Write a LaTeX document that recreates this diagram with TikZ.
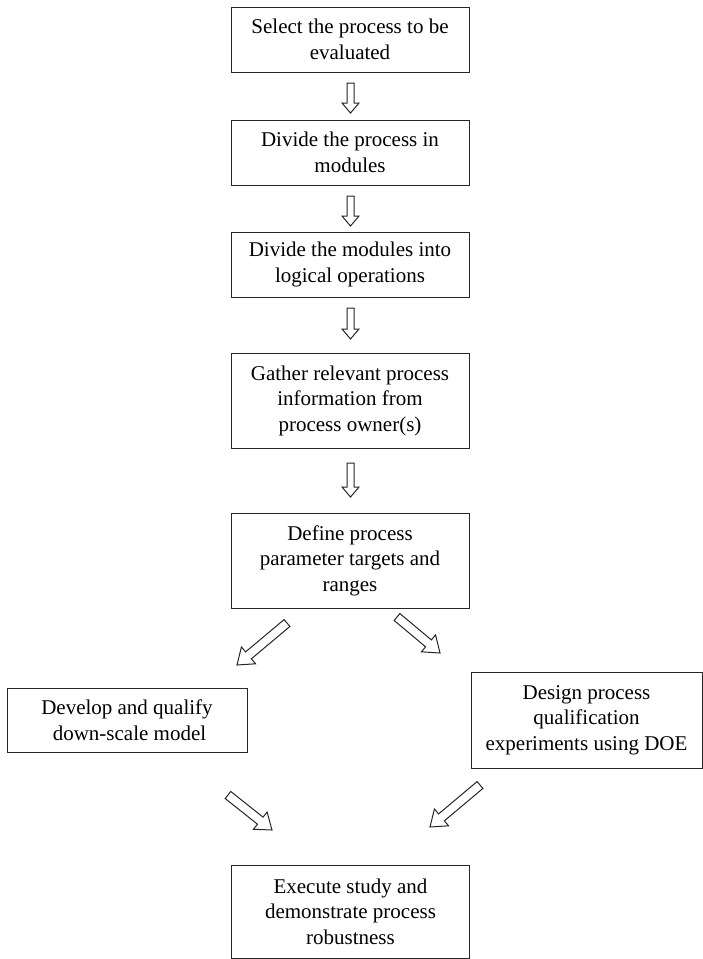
\documentclass[tikz,border=0pt]{standalone}
\usepackage{fontspec}
\setmainfont{Liberation Serif}
\usetikzlibrary{calc}
\tikzset{
  box/.style={draw=black!85, line width=1pt, align=center, inner sep=2pt,
    font=\fontsize{21}{25.5}\selectfont, text=black},
  barrow/.style={draw=black!85, line width=1pt, fill=white, line join=miter},
}
% tail, tip, shaft half width, head half width, head length
\newcommand{\blockarr}[5]{%
  \coordinate (#1#2h) at ($(#2)!#5!(#1)$);
  \draw[barrow] ($(#1)!#3!90:(#2)$) -- ($(#1#2h)!#3!-90:(#1)$) -- ($(#1#2h)!#4!-90:(#1)$)
    -- (#2) -- ($(#1#2h)!#4!90:(#1)$) -- ($(#1#2h)!#3!90:(#1)$) -- ($(#1)!#3!-90:(#2)$) -- cycle;
}
\begin{document}
\begin{tikzpicture}[x=1pt,y=-1pt]
\useasboundingbox (0,0) rectangle (703,959);
\node[box, minimum width=238pt, minimum height=65pt] (b1) at (350,39.5) {Select the process to be\\evaluated};
\node[box, minimum width=238pt, minimum height=65pt] (b2) at (350,152.5) {Divide the process in\\modules};
\node[box, minimum width=238pt, minimum height=65pt] (b3) at (350,264.5) {Divide the modules into\\logical operations};
\node[box, minimum width=238pt, minimum height=95pt] (b4) at (350,400.5) {Gather relevant process\\information from\\process owner(s)};
\node[box, minimum width=238pt, minimum height=95pt] (b5) at (350,560.5) {Define process\\parameter targets and\\ranges};
\node[box, minimum width=240pt, minimum height=64pt] (b6) at (127,720) {Develop and qualify\\\hspace*{5pt}down-scale model};
\node[box, minimum width=231pt, minimum height=96pt] (b7) at (586.5,720) {Design process\\qualification\\experiments using DOE};
\node[box, minimum width=238pt, minimum height=93pt] (b8) at (350.5,911.5) {Execute study and\\demonstrate process\\robustness};

\coordinate (v1s) at (350.5,83);  \coordinate (v1e) at (350.5,113);
\coordinate (v2s) at (350.5,196); \coordinate (v2e) at (350.5,226);
\coordinate (v3s) at (350.5,308); \coordinate (v3e) at (350.5,339);
\coordinate (v4s) at (350.5,463); \coordinate (v4e) at (350.5,497);
\coordinate (d1s) at (287,623); \coordinate (d1e) at (237,665);
\coordinate (d2s) at (397,617); \coordinate (d2e) at (440,653);
\coordinate (d3s) at (228,795); \coordinate (d3e) at (272,830);
\coordinate (d4s) at (480,785); \coordinate (d4e) at (430,827);

\blockarr{v1s}{v1e}{3.5pt}{8.5pt}{10pt}
\blockarr{v2s}{v2e}{3.5pt}{8.5pt}{10pt}
\blockarr{v3s}{v3e}{3.5pt}{8.5pt}{10pt}
\blockarr{v4s}{v4e}{3.5pt}{8.5pt}{10pt}
\blockarr{d1s}{d1e}{4.5pt}{11pt}{15pt}
\blockarr{d2s}{d2e}{4.5pt}{11pt}{15pt}
\blockarr{d3s}{d3e}{4.5pt}{11pt}{15pt}
\blockarr{d4s}{d4e}{4.5pt}{11pt}{15pt}
\end{tikzpicture}
\end{document}
